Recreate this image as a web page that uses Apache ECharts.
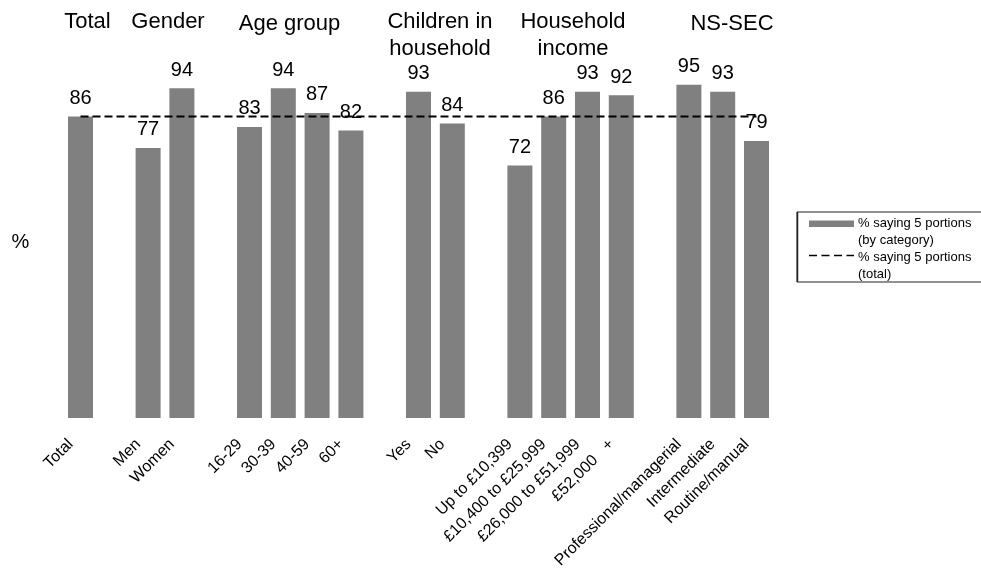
<!DOCTYPE html>
<html>
<head>
<meta charset="utf-8">
<title>% saying 5 portions</title>
<script src="https://cdn.jsdelivr.net/npm/echarts@6/dist/echarts.min.js"></script>
<style>
  html, body { margin: 0; padding: 0; background: #ffffff; }
  #chart { width: 981px; height: 572px; }
</style>
</head>
<body>
<div id="chart"></div>
<script>
// Categories along the x axis; empty strings are spacer slots between groups
const categories = [
  'Total', '',
  'Men', 'Women', '',
  '16-29', '30-39', '40-59', '60+', '',
  'Yes', 'No', '',
  'Up to £10,399', '£10,400 to £25,999', '£26,000 to £51,999', '£52,000   +', '',
  'Professional/managerial', 'Intermediate', 'Routine/manual'
];

// % saying 5 portions, by category (null = spacer)
const categoryValues = [
  86, null,
  77, 94, null,
  83, 94, 87, 82, null,
  93, 84, null,
  72, 86, 93, 92, null,
  95, 93, 79
];

// % saying 5 portions, all respondents
const totalValue = 86;

// Group headings above the bars
const groupTitles = ['Total', 'Gender', 'Age group', 'Children in\nhousehold', 'Household\nincome', 'NS-SEC'];

// Legend entries
const seriesNames = ['% saying 5 portions\n(by category)', '% saying 5 portions\n(total)'];

const yAxisLabel = '%';

// ---- layout ----
const FONT = '"Liberation Sans", Arial, Helvetica, sans-serif';
const titleLayout = [
  { x: 87.5, y: 8.2 },
  { x: 168, y: 8.2 },
  { x: 289.5, y: 10.6 },
  { x: 440, y: 8.9 },
  { x: 573, y: 8.9 },
  { x: 732, y: 10.6 }
];

const chart = echarts.init(document.getElementById('chart'), null, { renderer: 'canvas' });

const graphics = [];

groupTitles.forEach(function (t, i) {
  graphics.push({
    type: 'text',
    x: titleLayout[i].x,
    y: titleLayout[i].y,
    silent: true,
    style: {
      text: t,
      fill: '#000',
      font: '22px ' + FONT,
      lineHeight: 27,
      align: 'center',
      verticalAlign: 'top'
    }
  });
});

graphics.push({
  type: 'text',
  x: 20.5,
  y: 242,
  silent: true,
  style: { text: yAxisLabel, fill: '#000', font: '20px ' + FONT, align: 'center', verticalAlign: 'middle' }
});

// Legend box
graphics.push({
  type: 'group',
  silent: true,
  children: [
    { type: 'rect', shape: { x: 797, y: 212, width: 200, height: 70 },
      style: { fill: '#fff', stroke: '#222', lineWidth: 1 } },
    { type: 'line', shape: { x1: 797.5, y1: 212, x2: 797.5, y2: 282 },
      style: { stroke: '#222', lineWidth: 1.5 } },
    { type: 'rect', shape: { x: 809, y: 220.5, width: 45, height: 6.5 },
      style: { fill: '#808080' } },
    { type: 'line', shape: { x1: 809, y1: 255.5, x2: 854, y2: 255.5 },
      style: { stroke: '#000', lineWidth: 1.6, lineDash: [8, 4.5] } },
    { type: 'text', x: 858, y: 215.3,
      style: { text: seriesNames[0], fill: '#000', font: '13px ' + FONT, lineHeight: 17, align: 'left', verticalAlign: 'top' } },
    { type: 'text', x: 858, y: 248.7,
      style: { text: seriesNames[1], fill: '#000', font: '13px ' + FONT, lineHeight: 17, align: 'left', verticalAlign: 'top' } }
  ]
});

const option = {
  animation: false,
  backgroundColor: '#ffffff',
  textStyle: { fontFamily: FONT },
  grid: { left: 63.6, right: 207.6, top: 67.3, bottom: 154 },
  xAxis: {
    type: 'category',
    data: categories,
    axisLine: { show: false },
    axisTick: { show: false },
    splitLine: { show: false },
    axisLabel: {
      interval: 0,
      rotate: 45,
      margin: 14,
      padding: [0, 14, 0, 0],
      color: '#000',
      fontSize: 16,
      fontFamily: FONT
    }
  },
  yAxis: {
    type: 'value',
    min: 0,
    max: 100,
    show: false,
    splitLine: { show: false }
  },
  series: [
    {
      name: seriesNames[0],
      type: 'bar',
      data: categoryValues,
      barCategoryGap: '26%',
      itemStyle: { color: '#808080' },
      label: {
        show: true,
        position: 'top',
        distance: 8,
        color: '#000',
        fontSize: 20,
        fontFamily: FONT
      },
      z: 2
    },
    {
      name: seriesNames[1],
      type: 'line',
      data: categories.map(function () { return totalValue; }),
      symbol: 'none',
      lineStyle: { color: '#000', width: 2, type: [8, 4] },
      z: 3
    }
  ],
  graphic: graphics
};

chart.setOption(option);
</script>
</body>
</html>
